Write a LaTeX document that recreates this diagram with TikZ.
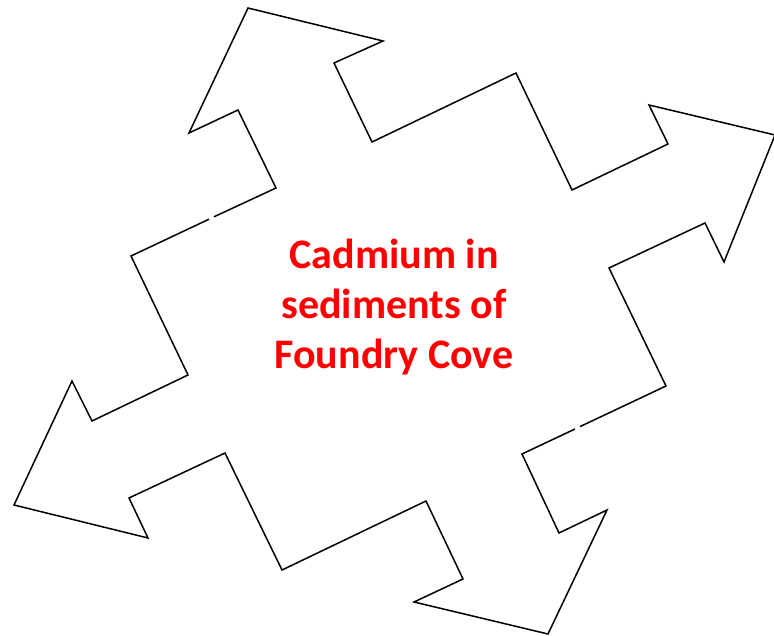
\documentclass[tikz,border=0pt]{standalone}
\usepackage{fontspec}
\setmainfont{Carlito}
\begin{document}
\begin{tikzpicture}[x=1pt,y=-1pt,
  outline/.style={draw=black,line width=1.5pt,line join=miter,line cap=butt},
  label/.style={text=red,font=\fontsize{42}{50}\selectfont\bfseries,align=center,inner sep=0pt}]
\useasboundingbox (0,0) rectangle (774,636);
\draw[outline] (214,216.8) -- (276,188) -- (238,110) -- (189,133) -- (248,8) -- (383,41) -- (334,63) -- (372,142) -- (516,73) -- (572,190) -- (668,144) -- (649,105) -- (775,135) -- (724,262) -- (705,223) -- (609,268) -- (666,386) -- (580,426.6);
\draw[outline] (575,429) -- (522,454) -- (559,533) -- (607,510) -- (548,634) -- (414,602) -- (463,579) -- (426,501) -- (282,570) -- (225,453) -- (129,498) -- (148,538) -- (14,505) -- (72,381) -- (92,421) -- (188,375) -- (131,256) -- (209,219.2);
\node[label] (t) at (394,307) {Cadmium in\\sediments of\\Foundry Cove};
\end{tikzpicture}
\end{document}
